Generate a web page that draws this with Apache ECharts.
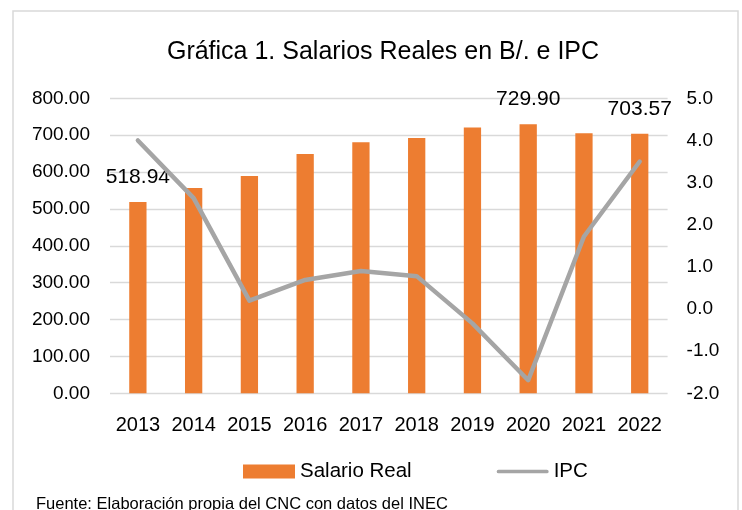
<!DOCTYPE html>
<html>
<head>
<meta charset="utf-8">
<script src="https://cdn.jsdelivr.net/npm/echarts@6/dist/echarts.min.js"></script>
<style>
html,body{margin:0;padding:0;background:#fff;}
#c{width:742px;height:510px;}
</style>
</head>
<body>
<div id="c"></div>
<script>
const years = ['2013','2014','2015','2016','2017','2018','2019','2020','2021','2022'];
const salario = [518.94, 557, 589, 649, 681, 692, 721, 729.90, 705, 703.57];
const ipc = [4.0, 2.63, 0.2, 0.69, 0.9, 0.78, -0.34, -1.69, 1.72, 3.5];
const labeledIdx = [0, 7, 9];
const leftTicks = {min: 0, max: 800, interval: 100};
const rightTicks = {min: -2, max: 5, interval: 1};

const FONT = '"Liberation Sans", Arial, sans-serif';
const chart = echarts.init(document.getElementById('c'), null, {renderer: 'canvas'});

const barData = salario.map((v, i) => ({
  value: v,
  label: {show: labeledIdx.indexOf(i) >= 0}
}));

chart.setOption({
  backgroundColor: '#ffffff',
  animation: false,
  textStyle: {fontFamily: FONT},
  title: {
    text: 'Gráfica 1. Salarios Reales en B/. e IPC',
    left: 378, textAlign: 'center', top: 35,
    textStyle: {fontFamily: FONT, fontSize: 25, fontWeight: 'normal', color: '#000'}
  },
  graphic: [
    {type: 'rect', shape: {x: 13, y: 11, width: 725, height: 540},
     style: {fill: 'none', stroke: '#d9d9d9', lineWidth: 1.5}, silent: true, z: -1},
    {type: 'text', left: 36, top: 496,
     style: {text: 'Fuente: Elaboración propia del CNC con datos del INEC', fill: '#000', font: '16.5px ' + FONT}}
  ],
  legend: {
    left: 243, top: 461, padding: 0,
    itemWidth: 52, itemHeight: 14, itemGap: 85,
    textStyle: {fontFamily: FONT, fontSize: 20.5, color: '#000'},
    data: [
      {name: 'Salario Real', icon: 'rect'},
      {name: 'IPC', icon: 'path://M2,0 H54 A2,2 0 0 1 54,4 H2 A2,2 0 0 1 2,0 Z'}
    ]
  },
  grid: {left: 110, right: 74.4, top: 98.3, bottom: 116.7, containLabel: false},
  xAxis: {
    type: 'category', data: years,
    axisLine: {show: false}, axisTick: {show: false},
    axisLabel: {fontFamily: FONT, fontSize: 20, color: '#000', margin: 22, interval: 0}
  },
  yAxis: [
    {type: 'value', min: leftTicks.min, max: leftTicks.max, interval: leftTicks.interval,
     axisLine: {show: false}, axisTick: {show: false},
     splitLine: {lineStyle: {color: '#d9d9d9', width: 1.3}},
     axisLabel: {fontFamily: FONT, fontSize: 19, color: '#000', margin: 20,
       formatter: v => v.toFixed(2)}},
    {type: 'value', min: rightTicks.min, max: rightTicks.max, interval: rightTicks.interval,
     axisLine: {show: false}, axisTick: {show: false}, splitLine: {show: false},
     axisLabel: {fontFamily: FONT, fontSize: 19, color: '#000', margin: 19,
       formatter: v => v.toFixed(1)}}
  ],
  series: [
    {name: 'Salario Real', type: 'bar', yAxisIndex: 0, data: barData,
     barWidth: '31%', itemStyle: {color: '#ED7D31'},
     label: {position: 'top', distance: 14, fontFamily: FONT, fontSize: 21, color: '#000',
       formatter: p => p.value.toFixed(2)}},
    {name: 'IPC', type: 'line', yAxisIndex: 1, data: ipc,
     symbol: 'none', showSymbol: false,
     lineStyle: {color: '#A5A5A5', width: 4.5, cap: 'round', join: 'round'},
     itemStyle: {color: '#A5A5A5'}, z: 3}
  ]
});
</script>
</body>
</html>
